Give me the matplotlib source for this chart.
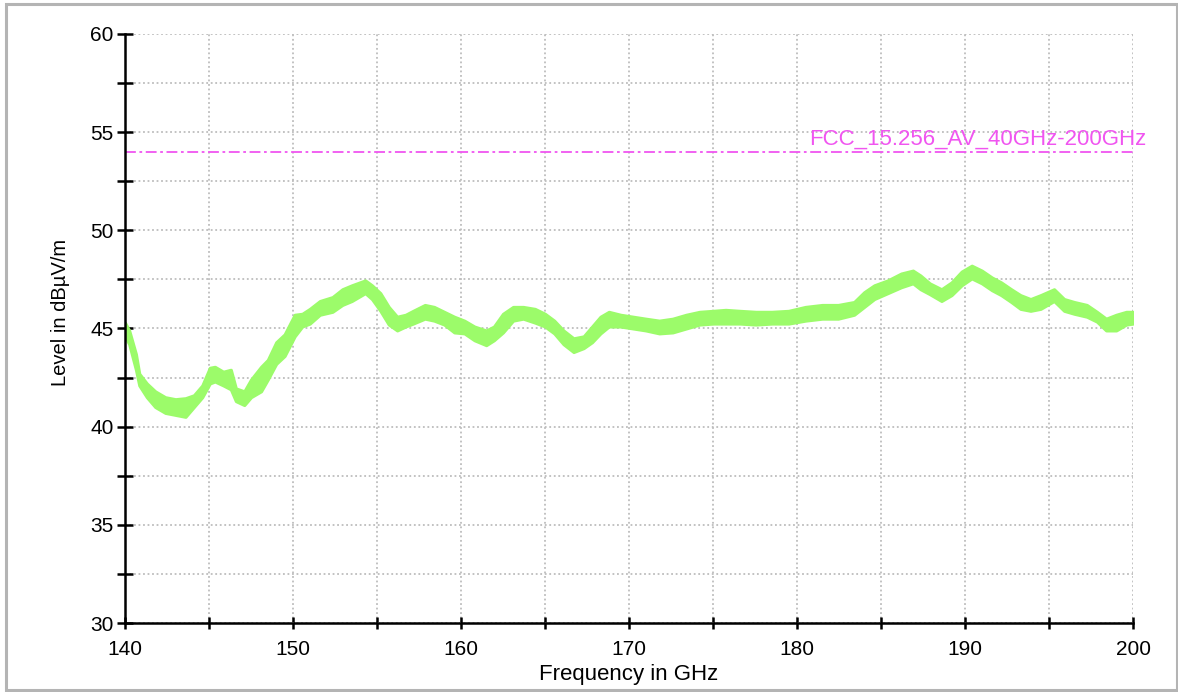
import matplotlib
matplotlib.use('Agg')
import matplotlib.pyplot as plt
from matplotlib.patches import Rectangle
from matplotlib.ticker import MultipleLocator

plt.rcParams['font.family'] = ['Liberation Sans', 'DejaVu Sans']

# Trace envelope (GHz, dBuV/m)
freq = [140.0, 140.25, 140.65, 140.85, 141.3, 141.8, 142.4, 143.0, 143.6, 144.1,
        144.6, 145.05, 145.35, 145.85, 146.3, 146.6, 147.1, 147.5, 148.1, 148.5,
        149.0, 149.5, 150.1, 150.55, 151.0, 151.6, 152.35, 152.94, 153.5, 154.3,
        154.7, 155.2, 155.7, 156.2, 156.7, 157.15, 157.85, 158.4, 159.0, 159.6,
        160.2, 160.8, 161.5, 161.96, 162.5, 163.1, 163.7, 164.4, 165.0, 165.55,
        166.1, 166.7, 167.3, 167.8, 168.3, 168.8, 169.5, 170.25, 171.0, 171.8,
        172.6, 173.4, 174.2, 175.0, 175.75, 176.6, 177.55, 178.5, 179.5, 180.5,
        181.5, 182.45, 183.4, 184.0, 184.6, 185.4, 186.2, 186.9, 187.35, 187.9,
        188.6, 189.2, 189.8, 190.4, 191.0, 191.6, 192.15, 192.75, 193.3, 193.9,
        194.5, 195.3, 195.9, 196.5, 197.25, 197.85, 198.4, 199.0, 199.6, 200.0]
upper = [45.3, 44.9, 43.7, 42.7, 42.2, 41.8, 41.5, 41.4, 41.45, 41.6,
         42.1, 43.0, 43.05, 42.8, 42.9, 41.95, 41.8, 42.4, 43.05, 43.4,
         44.3, 44.7, 45.7, 45.75, 46.0, 46.4, 46.6, 47.0, 47.2, 47.45,
         47.2, 46.8, 46.1, 45.6, 45.7, 45.9, 46.2, 46.1, 45.85, 45.6,
         45.4, 45.1, 44.9, 45.1, 45.75, 46.1, 46.1, 46.0, 45.75, 45.4,
         44.9, 44.5, 44.6, 45.1, 45.6, 45.85, 45.7, 45.6, 45.5, 45.4,
         45.5, 45.7, 45.85, 45.9, 45.95, 45.9, 45.85, 45.85, 45.9, 46.1,
         46.2, 46.2, 46.35, 46.85, 47.2, 47.45, 47.8, 47.95, 47.7, 47.3,
         47.0, 47.35, 47.9, 48.2, 47.95, 47.6, 47.35, 47.0, 46.7, 46.5,
         46.7, 47.0, 46.5, 46.35, 46.2, 45.85, 45.5, 45.7, 45.85, 45.85]
lower = [44.6, 44.2, 42.9, 42.1, 41.5, 41.0, 40.7, 40.6, 40.5, 41.0,
         41.5, 42.2, 42.3, 42.1, 41.9, 41.3, 41.1, 41.5, 41.8, 42.4,
         43.2, 43.6, 44.6, 45.1, 45.25, 45.7, 45.85, 46.2, 46.4, 46.8,
         46.5, 45.9, 45.2, 44.9, 45.1, 45.25, 45.5, 45.4, 45.2, 44.8,
         44.75, 44.4, 44.15, 44.4, 44.8, 45.4, 45.5, 45.3, 45.1, 44.75,
         44.2, 43.8, 44.0, 44.3, 44.75, 45.1, 45.1, 45.0, 44.9, 44.75,
         44.8, 45.0, 45.2, 45.25, 45.25, 45.25, 45.2, 45.25, 45.25, 45.4,
         45.5, 45.5, 45.7, 46.1, 46.5, 46.8, 47.1, 47.3, 47.0, 46.75,
         46.4, 46.7, 47.2, 47.55, 47.3, 46.95, 46.7, 46.35, 46.0, 45.9,
         46.0, 46.4, 45.9, 45.75, 45.6, 45.35, 44.9, 44.9, 45.2, 45.25]

limit_level = 54.0
limit_name = 'FCC_15.256_AV_40GHz-200GHz'

fig = plt.figure(figsize=(11.78, 6.92), dpi=100)
ax = fig.add_axes([0.1061, 0.0997, 0.8557, 0.8512])

# outer frame
fig.patches.append(Rectangle((0.0055, 0.003), 0.9935, 0.9915, transform=fig.transFigure,
                             fill=False, edgecolor='#b4b4b4', linewidth=2.2))

ax.fill_between(freq, lower, upper, color='#9cfb6a', edgecolor='#9cfb6a', linewidth=2.2, zorder=3)

ax.plot([140, 200], [limit_level, limit_level], color='#f055f0', linewidth=1.3,
        dashes=(6, 2, 1.5, 2), zorder=4)
ax.text(200.8, limit_level + 0.1, limit_name, color='#f055f0', fontsize=16,
        ha='right', va='bottom')

ax.set_xlim(140, 200)
ax.set_ylim(30, 60)
ax.xaxis.set_major_locator(MultipleLocator(10))
ax.xaxis.set_minor_locator(MultipleLocator(5))
ax.yaxis.set_major_locator(MultipleLocator(5))
ax.yaxis.set_minor_locator(MultipleLocator(2.5))

ax.grid(True, which='both', color='#bdbdbd', linestyle=(0, (1, 1.5)), linewidth=1.3, zorder=1)
ax.set_axisbelow(True)

for s in ['top', 'right']:
    ax.spines[s].set_visible(False)
for s in ['left', 'bottom']:
    ax.spines[s].set_linewidth(1.8)
    ax.spines[s].set_zorder(5)

ax.tick_params(axis='y', which='both', direction='inout', length=12, width=1.8, labelsize=15, pad=2)
ax.tick_params(axis='x', which='both', direction='inout', length=9, width=1.8, labelsize=15, pad=8)

ax.set_xlabel('Frequency in GHz', fontsize=16, labelpad=3)
ax.set_ylabel('Level in dBµV/m', fontsize=14.5)
ax.yaxis.set_label_coords(-0.0546, 0.528)

fig.savefig('out.png', dpi=100)
